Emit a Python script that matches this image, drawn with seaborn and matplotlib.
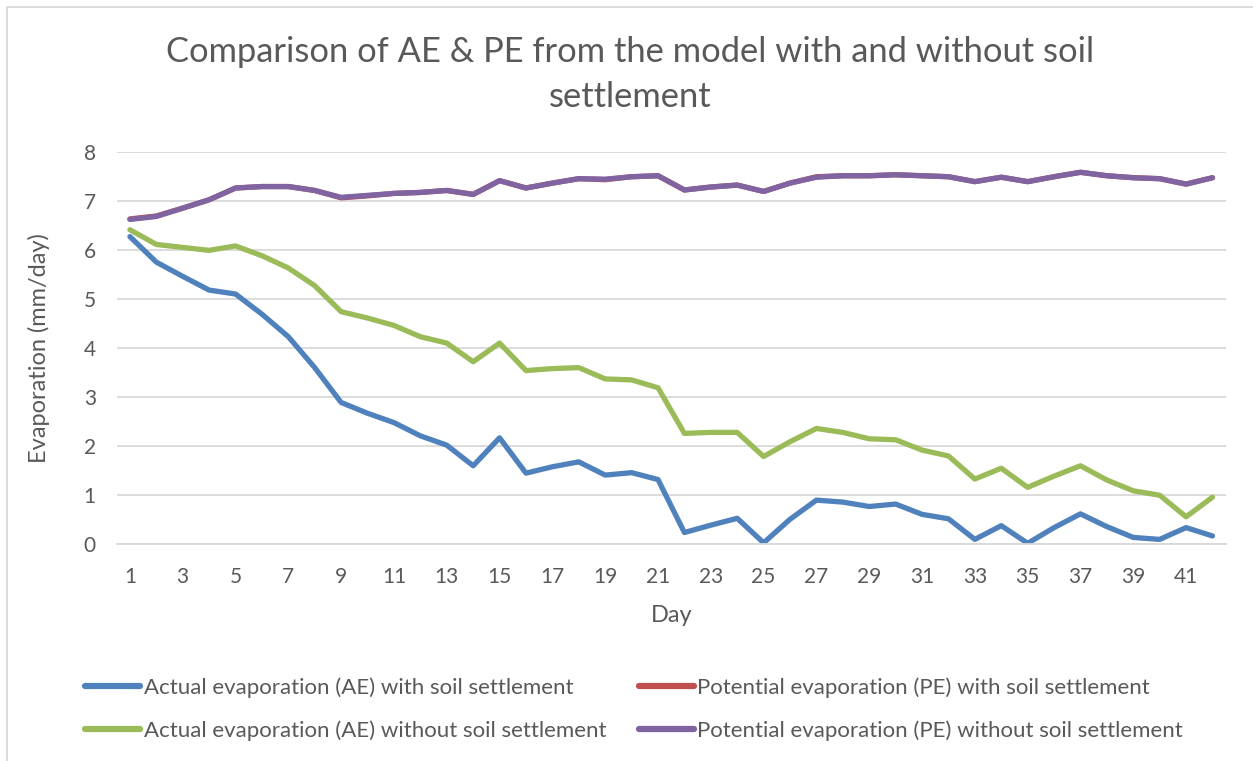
import numpy as np
import pandas as pd
import seaborn as sns
import matplotlib.pyplot as plt
from matplotlib.patches import Rectangle

days = list(range(1, 43))

ae_with = [6.27, 5.75, 5.46, 5.18, 5.10, 4.69, 4.23, 3.60, 2.89, 2.67,
           2.48, 2.21, 2.02, 1.60, 2.17, 1.45, 1.58, 1.68, 1.41, 1.46,
           1.32, 0.24, 0.39, 0.53, 0.03, 0.51, 0.90, 0.86, 0.77, 0.82,
           0.61, 0.52, 0.10, 0.38, 0.02, 0.34, 0.62, 0.36, 0.14, 0.10,
           0.34, 0.17]

ae_without = [6.41, 6.11, 6.05, 5.99, 6.08, 5.88, 5.63, 5.27, 4.74, 4.61,
              4.46, 4.23, 4.10, 3.72, 4.10, 3.54, 3.58, 3.60, 3.37, 3.35,
              3.19, 2.26, 2.28, 2.28, 1.79, 2.09, 2.36, 2.28, 2.15, 2.13,
              1.92, 1.80, 1.33, 1.55, 1.16, 1.39, 1.60, 1.31, 1.09, 1.00,
              0.56, 0.96]

pe_without = [6.62, 6.68, 6.85, 7.02, 7.26, 7.29, 7.29, 7.21, 7.07, 7.11,
              7.15, 7.17, 7.21, 7.13, 7.41, 7.26, 7.36, 7.45, 7.44, 7.49,
              7.51, 7.22, 7.28, 7.32, 7.19, 7.36, 7.48, 7.51, 7.51, 7.53,
              7.51, 7.49, 7.39, 7.48, 7.39, 7.49, 7.58, 7.51, 7.47, 7.45,
              7.34, 7.47]

pe_with = [6.63, 6.69, 6.85, 7.02, 7.26, 7.29, 7.29, 7.21, 7.06, 7.10,
           7.15, 7.17, 7.21, 7.13, 7.41, 7.26, 7.36, 7.45, 7.43, 7.49,
           7.51, 7.22, 7.28, 7.32, 7.19, 7.36, 7.49, 7.51, 7.51, 7.53,
           7.51, 7.49, 7.39, 7.48, 7.39, 7.49, 7.58, 7.51, 7.47, 7.45,
           7.34, 7.47]

series_names = [
    "Actual evaporation (AE) with soil settlement",
    "Potential evaporation (PE) with soil settlement",
    "Actual evaporation (AE) without soil settlement",
    "Potential evaporation (PE) without soil settlement",
]
series_values = [ae_with, pe_with, ae_without, pe_without]
colors = ["#4F81BD", "#C0504D", "#9BBB59", "#8064A2"]

df = pd.concat(
    [pd.DataFrame({"Day": days, "Evaporation": v, "Series": n})
     for n, v in zip(series_names, series_values)],
    ignore_index=True,
)

sns.set_theme(style="white")
plt.rcParams["font.family"] = ["Lato", "DejaVu Sans"]
text_color = "#595959"
grid_color = "#D9D9D9"

fig = plt.figure(figsize=(12.53, 7.61), dpi=100, facecolor="white")
W, H = 1253, 761
left, right, top, bottom = 116.7, 1225.7, 151.7, 544.3
ax = fig.add_axes([left / W, 1 - bottom / H, (right - left) / W, (bottom - top) / H])

sns.lineplot(data=df, x="Day", y="Evaporation", hue="Series",
             hue_order=series_names, palette=colors, linewidth=3.8,
             ax=ax, legend=True, solid_capstyle="round", solid_joinstyle="round")

ax.set_xlim(0.5, 42.5)
ax.set_ylim(0, 8)
ax.set_yticks(range(0, 9))
ax.set_xticks(range(1, 43, 2))
ax.set_xticklabels([str(d) for d in range(1, 43, 2)])
ax.grid(axis="y", color=grid_color, linewidth=1.3)
ax.set_axisbelow(True)
for s in ["top", "right", "left"]:
    ax.spines[s].set_visible(False)
ax.spines["bottom"].set_color(grid_color)
ax.spines["bottom"].set_linewidth(1.3)
ax.tick_params(axis="both", length=0, labelsize=15, labelcolor=text_color)
ax.tick_params(axis="x", pad=16)
ax.tick_params(axis="y", pad=15)
ax.set_xlabel("Day", fontsize=17, color=text_color, labelpad=13)
ax.set_ylabel("Evaporation (mm/day)", fontsize=17, color=text_color, labelpad=24)

handles, labels = ax.get_legend_handles_labels()
ax.get_legend().remove()
order = [0, 2, 1, 3]
leg = fig.legend([handles[i] for i in order], [labels[i] for i in order],
                 loc="center", bbox_to_anchor=(0.506, 1 - 709 / H), ncol=2,
                 frameon=False, fontsize=16, handlelength=2.5, handletextpad=0.15,
                 columnspacing=1.45, labelspacing=1.03)
for t in leg.get_texts():
    t.set_color(text_color)
for h in leg.legend_handles:
    h.set_linewidth(4.5)

fig.text(0.503, 1 - 52 / H, "Comparison of AE & PE from the model with and without soil",
         ha="center", va="center", fontsize=24.8, color=text_color)
fig.text(0.503, 1 - 97 / H, "settlement",
         ha="center", va="center", fontsize=24.8, color=text_color)

fig.patches.append(Rectangle((7 / W, -0.1), 1.2, 1 - 7 / H + 0.1,
                             transform=fig.transFigure, fill=False,
                             edgecolor="#D9D9D9", linewidth=1.3))

fig.savefig("out.png", dpi=100, facecolor="white")
